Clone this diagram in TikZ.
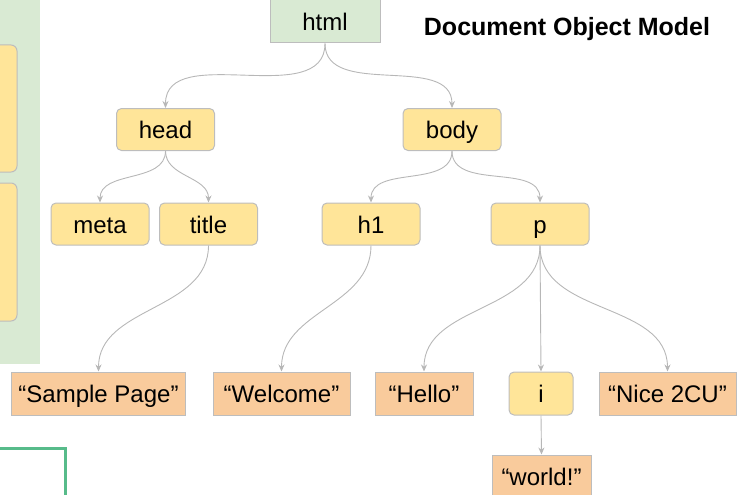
\documentclass[tikz,border=0pt]{standalone}
\usepackage{fontspec}
\setmainfont{Liberation Sans}
\usetikzlibrary{arrows.meta}

\definecolor{tagfill}{HTML}{FFE599}
\definecolor{textfill}{HTML}{F9CB9C}
\definecolor{rootfill}{HTML}{D9EAD3}
\definecolor{boxline}{HTML}{BDBDBD}
\definecolor{linkgray}{HTML}{B7B7B7}
\definecolor{framegreen}{HTML}{57BB8A}

\tikzset{
	label text/.style={font=\fontsize{24}{28}\selectfont, text height=20pt, text depth=1.5pt},
	tag/.style={label text, draw=boxline, fill=tagfill, line width=1pt, rounded corners=5pt,
		minimum width=98pt, minimum height=42pt, inner sep=0pt},
	leaf/.style={label text, draw=boxline, fill=textfill, line width=1pt,
		minimum height=43pt, inner sep=0pt},
	link/.style={draw=linkgray, line width=0.9pt, -{Stealth[length=7pt,width=6pt]}},
}

\begin{document}
\begin{tikzpicture}[x=1pt, y=-1pt]
	\useasboundingbox (0, 0) rectangle (742, 495);

	% cut-off panels at the left edge
	\fill[rootfill] (-10, -10) rectangle (40, 364);
	\draw[boxline, fill=tagfill, line width=1pt, rounded corners=6pt] (-20, 45) rectangle (17, 172);
	\draw[boxline, fill=tagfill, line width=1pt, rounded corners=6pt] (-20, 183) rectangle (17, 321);
	\draw[framegreen, line width=3pt] (-10, 448.5) -- (65, 448.5) -- (65, 510);

	\node[font=\fontsize{25}{29}\selectfont\bfseries] (dom) at (567, 29) {Document Object Model};

	\node[label text, draw=boxline, fill=rootfill, line width=1pt, minimum width=110pt,
		minimum height=44pt, inner sep=0pt] (html) at (325, 21) {html};

	\node[tag] (head) at (165.5, 129.5) {head};
	\node[tag] (body) at (452, 129.5) {body};

	\node[tag] (meta) at (100, 224) {meta};
	\node[tag] (title) at (208.5, 224) {title};
	\node[tag] (h1) at (371, 224) {h1};
	\node[tag] (p) at (540, 224) {p};

	\node[leaf, minimum width=174pt] (sample) at (98.5, 393.5) {“Sample Page”};
	\node[leaf, minimum width=137pt] (welcome) at (281.5, 393.5) {“Welcome”};
	\node[leaf, minimum width=98pt] (hello) at (424, 393.5) {“Hello”};
	\node[tag, minimum width=64pt, minimum height=43pt] (i) at (541, 393.5) {i};
	\node[leaf, minimum width=137pt] (nice) at (667.5, 393.5) {“Nice 2CU”};
	\node[leaf, minimum width=99pt] (world) at (541.5, 476.5) {“world!”};

	\draw[link] (html.south) to[out=-90, in=90] (head.north);
	\draw[link] (html.south) to[out=-90, in=90] (body.north);
	\draw[link] (head.south) to[out=-90, in=90] (meta.north);
	\draw[link] (head.south) to[out=-90, in=90] (title.north);
	\draw[link] (body.south) to[out=-90, in=90] (h1.north);
	\draw[link] (body.south) to[out=-90, in=90] (p.north);
	\draw[link] (title.south) to[out=-90, in=90] (sample.north);
	\draw[link] (h1.south) to[out=-90, in=90] (welcome.north);
	\draw[link] (p.south) to[out=-90, in=90] (hello.north);
	\draw[link] (p.south) -- (i.north);
	\draw[link] (p.south) to[out=-90, in=90] (nice.north);
	\draw[link] (i.south) -- (world.north);
\end{tikzpicture}
\end{document}
